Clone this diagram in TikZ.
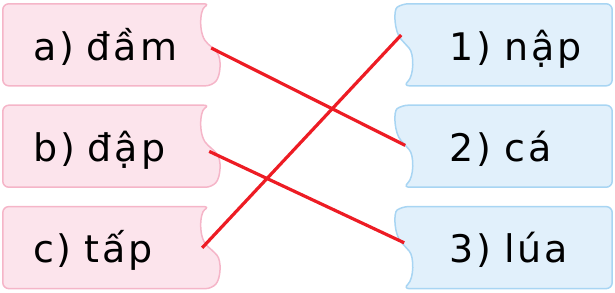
\documentclass[tikz,border=0pt]{standalone}
\usepackage{fontspec}
\newfontfamily\cardfont[LetterSpace=8]{DejaVu Sans}
\definecolor{pinkfill}{HTML}{FCE4EC}
\definecolor{pinkline}{HTML}{F5B5C8}
\definecolor{bluefill}{HTML}{E1F0FB}
\definecolor{blueline}{HTML}{A8D5F3}
\definecolor{matchred}{HTML}{ED1C24}
\usetikzlibrary{positioning, backgrounds}
\tikzset{
  wordcard/.style={
    minimum height=82pt, inner ysep=0pt, text height=36pt, text depth=6pt,
    align=left, font=\cardfont\fontsize{38}{40}\selectfont, text=black
  },
  leftcard/.style={wordcard, inner xsep=30pt, text width=148pt},
  rightcard/.style={wordcard, inner xsep=47pt, text width=116pt},
  leftedge/.style={draw=pinkline, fill=pinkfill, line width=1.5pt, rounded corners=6pt},
  rightedge/.style={draw=blueline, fill=bluefill, line width=1.5pt, rounded corners=6pt},
  matchline/.style={draw=matchred, line width=3.2pt}
}
\begin{document}
\begin{tikzpicture}[node distance=19pt and 191pt]
      \useasboundingbox (0,0) rectangle (615pt,-292pt);
      \node[leftcard] (a) at (107pt,-45pt) {a)~đầm};
      \node[leftcard, below=of a] (b) {b)~đập};
      \node[leftcard, below=of b] (c) {c)~tấp};
      \node[rightcard, right=of a] (one)   {1)~nập};
      \node[rightcard, right=of b] (two)   {2)~cá};
      \node[rightcard, right=of c] (three) {3)~lúa};

      \begin{scope}[on background layer]
        \foreach \n in {a,b,c}
          \draw[leftedge, shift={(\n.north west)}] (207pt,0)
            .. controls (197pt,-6pt) and (195pt,-32pt) .. (210pt,-44pt)
            .. controls (219pt,-54pt) and (218pt,-72pt) .. (209pt,-82pt)
            -- (0,-82pt) -- (0,0) -- cycle;
        \foreach \n in {one,two,three}
          \draw[rightedge, shift={(\n.north west)}] (0,0)
            .. controls (-9pt,-6pt) and (-8pt,-28pt) .. (3pt,-40pt)
            .. controls (12pt,-50pt) and (12pt,-72pt) .. (1pt,-82pt)
            -- (210pt,-82pt) -- (210pt,0) -- cycle;
      \end{scope}

      \draw[matchline] ([yshift=-3pt]a.east) -- ([xshift=3pt,yshift=1pt]two.west);
      \draw[matchline] ([xshift=-2pt,yshift=-5pt]b.east) -- ([xshift=2pt,yshift=5pt]three.west);
      \draw[matchline] ([xshift=-9pt]c.east) -- ([xshift=-1pt,yshift=10pt]one.west);
    \end{tikzpicture}
\end{document}
